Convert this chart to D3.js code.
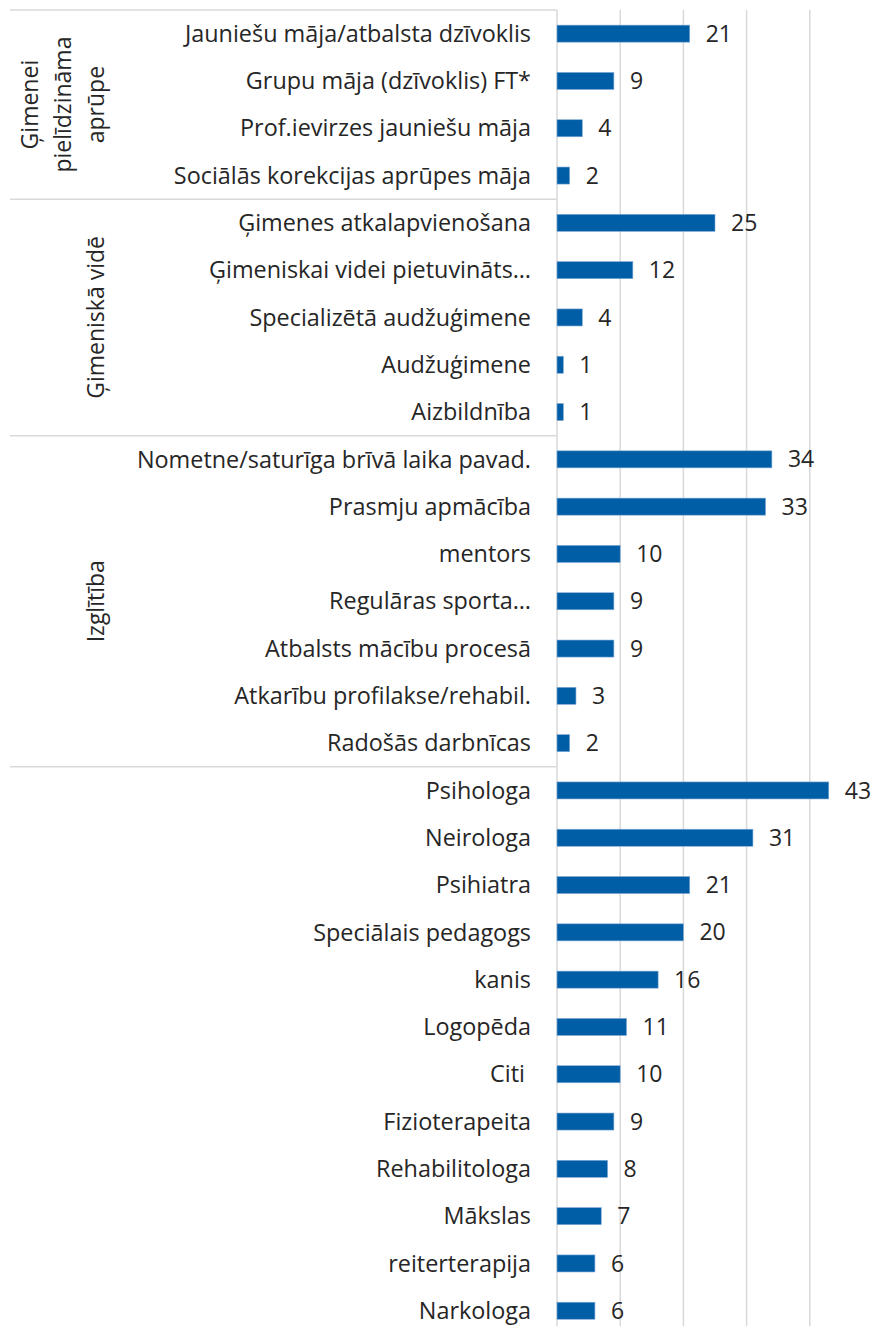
<!DOCTYPE html>
<html>
<head>
<meta charset="utf-8">
<script src="https://cdn.jsdelivr.net/npm/d3@7"></script>
<style>
	body { margin: 0; background: #fff; }
	svg text { font-family: "Open Sans", sans-serif; fill: #262626; }
</style>
</head>
<body>
<div id="chart"></div>
<script>
const groups = [
	{ name: ["Ģimenei", "pielīdzināma", "aprūpe"], size: 4 },
	{ name: ["Ģimeniskā vidē"], size: 5 },
	{ name: ["Izglītība"], size: 7 },
	{ name: [], size: 12 }
];

const categories = [
	"Jauniešu māja/atbalsta dzīvoklis", "Grupu māja (dzīvoklis) FT*", "Prof.ievirzes jauniešu māja", "Sociālās korekcijas aprūpes māja",
	"Ģimenes atkalapvienošana", "Ģimeniskai videi pietuvināts…", "Specializētā audžuģimene", "Audžuģimene", "Aizbildnība",
	"Nometne/saturīga brīvā laika pavad.", "Prasmju apmācība", "mentors", "Regulāras sporta…", "Atbalsts mācību procesā", "Atkarību profilakse/rehabil.", "Radošās darbnīcas",
	"Psihologa", "Neirologa", "Psihiatra", "Speciālais pedagogs", "kanis", "Logopēda", "Citi ", "Fizioterapeita", "Rehabilitologa", "Mākslas", "reiterterapija", "Narkologa"
];

const values = [
	21, 9, 4, 2,
	25, 12, 4, 1, 1,
	34, 33, 10, 9, 9, 3, 2,
	43, 31, 21, 20, 16, 11, 10, 9, 8, 7, 6, 6
];

const xTicks = [0, 10, 20, 30, 40, 50];

const width = 871, height = 1326;
const margin = { top: 10, left: 557 };
const step = 47.3;

const data = categories.map((c, i) => ({ key: c, value: values[i] }));

let scale = {
	x: d3.scaleLinear().domain([0, 50]).range([margin.left, margin.left + 50 * 6.32]),
	y: d3.scaleBand().domain(categories.map((c, i) => i))
		.range([margin.top, margin.top + categories.length * step])
		.paddingInner(0.64).paddingOuter(0.32)
};

let svg = d3.select("#chart").append("svg")
	.attr("width", width)
	.attr("height", height);

// vertical gridlines
svg.append("g")
	.attr("class", "grid")
	.selectAll("line")
	.data(xTicks)
	.enter()
	.append("line")
		.attr("x1", d => scale.x(d))
		.attr("x2", d => scale.x(d))
		.attr("y1", margin.top)
		.attr("y2", height)
		.style("stroke", "#d9d9d9")
		.style("stroke-width", 1.5);

// group separators
let bounds = [0];
groups.forEach(g => bounds.push(bounds[bounds.length - 1] + g.size));

svg.append("g")
	.attr("class", "separators")
	.selectAll("line")
	.data(bounds.slice(0, -1))
	.enter()
	.append("line")
		.attr("x1", 10)
		.attr("x2", margin.left)
		.attr("y1", d => margin.top + d * scale.y.step())
		.attr("y2", d => margin.top + d * scale.y.step())
		.style("stroke", "#d9d9d9")
		.style("stroke-width", 1.5);

// group labels
groups.forEach((g, gi) => {
	let yMid = margin.top + (bounds[gi] + g.size / 2) * scale.y.step();
	let n = g.name.length;
	g.name.forEach((line, li) => {
		let x = 96 - (n - 1 - li) * 33;
		svg.append("text")
			.attr("transform", `translate(${x}, ${yMid}) rotate(-90)`)
			.attr("text-anchor", "middle")
			.attr("dy", "0.35em")
			.style("font-size", "23px")
			.text(line);
	});
});

// category labels
svg.append("g")
	.attr("class", "labels")
	.selectAll("text")
	.data(data)
	.enter()
	.append("text")
		.attr("x", margin.left - 26)
		.attr("y", (d, i) => scale.y(i) + scale.y.bandwidth() / 2)
		.attr("dy", "0.35em")
		.attr("text-anchor", "end")
		.style("font-size", "23.4px")
		.style("white-space", "pre")
		.text(d => d.key);

// bars
svg.append("g")
	.attr("class", "bars")
	.selectAll("rect")
	.data(data)
	.enter()
	.append("rect")
		.attr("x", scale.x(0))
		.attr("y", (d, i) => scale.y(i))
		.attr("width", d => scale.x(d.value) - scale.x(0))
		.attr("height", scale.y.bandwidth())
		.style("fill", "#005ea6")
		.style("stroke", "#7fa9d4")
		.style("stroke-width", 0.6);

// value labels
svg.append("g")
	.attr("class", "values")
	.selectAll("text")
	.data(data)
	.enter()
	.append("text")
		.attr("x", d => scale.x(d.value) + 16)
		.attr("y", (d, i) => scale.y(i) + scale.y.bandwidth() / 2)
		.attr("dy", "0.35em")
		.style("font-size", "23px")
		.text(d => d.value);
</script>
</body>
</html>
